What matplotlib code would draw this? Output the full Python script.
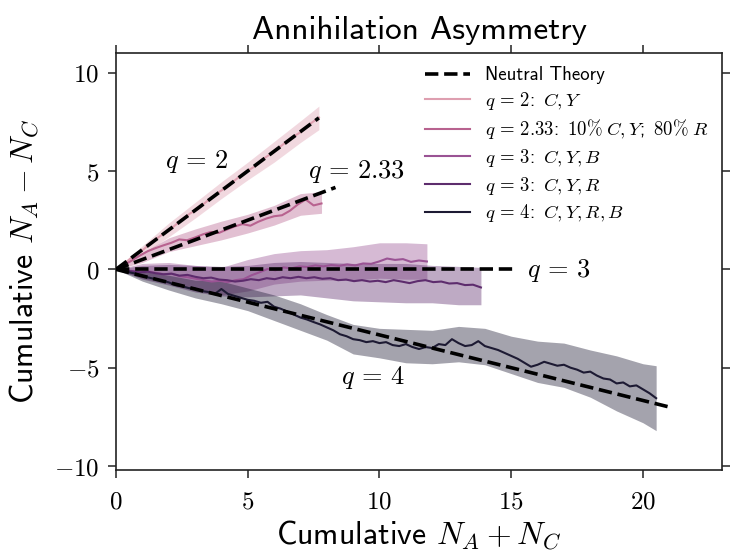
import numpy as np
import matplotlib
matplotlib.use('Agg')
import matplotlib.pyplot as plt
from matplotlib.ticker import FuncFormatter

plt.rcParams['font.family'] = 'cmss10'
plt.rcParams['mathtext.fontset'] = 'cm'
plt.rcParams['axes.unicode_minus'] = False

#%% data
labels = [r'$q\,=\,2$: $\,C,Y$',
          r'$q\,=\,2.33$: $\,10\%\;C,Y$; $\,80\%\;R$',
          r'$q\,=\,3$: $\,C,Y,B$',
          r'$q\,=\,3$: $\,C,Y,R$',
          r'$q\,=\,4$: $\,C,Y,R,B$']
colors = ['#de9fb0', '#b8628f', '#9a5394', '#5d2c6d', '#1d1a33']

# q = 2
x_q2 = np.linspace(0, 7.7, 23)
y_q2 = [0, 0.33, 0.72, 1.02, 1.43, 1.76, 2.08, 2.47, 2.83, 3.12, 3.52, 3.88,
        4.18, 4.57, 4.93, 5.22, 5.63, 5.93, 6.31, 6.68, 6.97, 7.38, 7.72]
bx_q2 = [0, 1, 2, 3, 4, 5, 6, 7, 7.7]
lo_q2 = [0, 0.75, 1.65, 2.6, 3.6, 4.55, 5.45, 6.45, 7.1]
hi_q2 = [0, 1.2, 2.35, 3.4, 4.45, 5.45, 6.5, 7.55, 8.3]

# q = 2.33
x_q233 = np.linspace(0, 7.8, 27)
y_q233 = [0, 0.22, 0.45, 0.7, 0.92, 1.08, 1.22, 1.35, 1.52, 1.48, 1.62, 1.78,
          1.9, 1.85, 2.02, 2.18, 2.3, 2.22, 2.42, 2.58, 2.7, 2.75, 2.98, 3.3,
          3.55, 3.25, 3.35]
bx_q233 = [0, 1, 2, 3, 4, 5, 6, 7, 7.8]
lo_q233 = [0, 0.35, 0.9, 1.2, 1.5, 1.85, 2.25, 2.75, 2.85]
hi_q233 = [0, 0.85, 1.6, 2.05, 2.45, 2.8, 3.25, 3.85, 3.95]

# q = 3, C,Y,B
x_q3b = np.linspace(0, 11.8, 40)
y_q3b = [0, -0.05, -0.08, -0.12, -0.10, -0.18, -0.25, -0.22, -0.35, -0.40,
         -0.48, -0.55, -0.62, -0.58, -0.65, -0.55, -0.50, -0.30, -0.15, 0.02,
         -0.05, 0.10, 0.05, 0.15, 0.12, 0.20, 0.15, 0.22, 0.18, 0.25,
         0.20, 0.30, 0.28, 0.40, 0.55, 0.48, 0.52, 0.38, 0.45, 0.40]
bx_q3b = [0, 1, 2, 3, 4, 5, 6, 7, 8, 9, 10, 11, 11.8]
lo_q3b = [0, -0.45, -0.75, -1.1, -1.3, -1.1, -0.75, -0.6, -0.55, -0.55, -0.45, -0.5, -0.5]
hi_q3b = [0, 0.3, 0.35, 0.2, 0.1, 0.5, 0.8, 0.95, 1.0, 1.15, 1.35, 1.35, 1.3]

# q = 3, C,Y,R
x_q3r = np.linspace(0, 13.85, 47)
y_q3r = [0, -0.06, -0.10, -0.15, -0.12, -0.20, -0.25, -0.22, -0.32, -0.28,
         -0.38, -0.45, -0.42, -0.52, -0.55, -0.62, -0.58, -0.50, -0.55, -0.45,
         -0.50, -0.40, -0.45, -0.38, -0.45, -0.40, -0.48, -0.45, -0.55, -0.52,
         -0.60, -0.55, -0.62, -0.58, -0.65, -0.55, -0.62, -0.70, -0.60, -0.55,
         -0.65, -0.62, -0.72, -0.70, -0.80, -0.78, -0.92]
bx_q3r = [0, 1, 2, 3, 4, 5, 6, 7, 8, 9, 10, 11, 12, 13, 13.85]
lo_q3r = [0, -0.5, -0.8, -1.15, -1.35, -1.4, -1.35, -1.3, -1.45, -1.6, -1.65, -1.7, -1.7, -1.8, -1.8]
hi_q3r = [0, 0.2, 0.25, 0.2, 0.15, 0.2, 0.35, 0.4, 0.35, 0.3, 0.3, 0.3, 0.2, 0.15, 0.1]

# q = 4
x_q4 = np.linspace(0, 20.5, 83)
y_q4 = [0.00, -0.08, -0.15, -0.22, -0.35, -0.42, -0.50, -0.58, -0.66, -0.80,
        -0.85, -0.95, -0.98, -1.10, -1.15, -1.25, -1.00, -1.25, -1.35, -1.45,
        -1.55, -1.60, -1.70, -1.65, -1.90, -2.00, -2.15, -2.30, -2.45, -2.55,
        -2.68, -2.80, -2.95, -3.10, -3.30, -3.40, -3.55, -3.60, -3.70, -3.65,
        -3.75, -3.70, -3.85, -3.90, -3.80, -3.95, -4.05, -3.95, -4.00, -3.80,
        -3.85, -3.55, -3.75, -3.90, -3.85, -3.65, -3.90, -4.00, -4.10, -4.25,
        -4.40, -4.55, -4.75, -4.95, -4.85, -4.70, -4.80, -4.90, -4.85, -5.00,
        -5.10, -5.25, -5.20, -5.40, -5.55, -5.60, -5.80, -5.75, -5.95, -5.90,
        -6.10, -6.30, -6.55]
bx_q4 = [0, 1, 2, 3, 4, 5, 6, 7, 8, 9, 10, 11, 12, 13, 14, 15, 16, 17, 18, 19, 20, 20.5]
lo_q4 = [0, -0.6, -1.05, -1.45, -1.75, -2.1, -2.6, -3.1, -3.6, -4.3, -4.5,
         -4.75, -4.8, -4.7, -4.85, -5.3, -5.75, -6.0, -6.5, -7.2, -7.8, -8.2]
hi_q4 = [0, -0.1, -0.3, -0.55, -0.6, -0.95, -1.3, -1.75, -2.3, -2.8, -3.0,
         -3.05, -3.1, -2.9, -3.0, -3.4, -3.65, -3.75, -4.1, -4.4, -4.8, -4.9]

# neutral theory: slope and end of each dashed line
neutral_slope = [1.0, 0.5, 0.0, -1 / 3]
neutral_end = [7.7, 8.33, 15.1, 21.0]

#%%
fig = plt.figure(figsize=(7.36, 5.52), dpi=100)
ax = fig.add_axes([0.1576, 0.1486, 0.8234, 0.7554])

series = [(x_q2, y_q2, bx_q2, lo_q2, hi_q2),
          (x_q233, y_q233, bx_q233, lo_q233, hi_q233),
          (x_q3b, y_q3b, bx_q3b, lo_q3b, hi_q3b),
          (x_q3r, y_q3r, bx_q3r, lo_q3r, hi_q3r),
          (x_q4, y_q4, bx_q4, lo_q4, hi_q4)]

handles = []
for (x, y, bx, lo, hi), c, lab in zip(series, colors, labels):
    ax.fill_between(bx, lo, hi, color=c, alpha=0.4, lw=0)
    h, = ax.plot(x, y, color=c, lw=1.5, label=lab)
    handles.append(h)

for s, e in zip(neutral_slope, neutral_end):
    hn, = ax.plot([0, e], [0, s * e], 'k--', lw=2.6, zorder=5,
                  label='Neutral Theory')

ax.text(1.85, 5.5, r'$q\,=\,2$', fontsize=19, va='center')
ax.text(7.3, 5.0, r'$q\,=\,2.33$', fontsize=19, va='center')
ax.text(15.6, -0.05, r'$q\,=\,3$', fontsize=19, va='center')
ax.text(8.55, -5.5, r'$q\,=\,4$', fontsize=19, va='center')

ax.set_xlim(0, 23)
ax.set_ylim(-10.2, 11)
ax.set_xticks([0, 5, 10, 15, 20])
ax.set_yticks([-10, -5, 0, 5, 10])
fmt = FuncFormatter(lambda v, p: '$%g$' % v)
ax.xaxis.set_major_formatter(fmt)
ax.yaxis.set_major_formatter(fmt)
ax.tick_params(direction='out', length=6, width=1.1, labelsize=18,
               top=True, right=True, color='#222222')
ax.tick_params(axis='x', pad=9)
ax.tick_params(axis='y', pad=6)
for sp in ax.spines.values():
    sp.set_linewidth(1.2)
    sp.set_color('#222222')

ax.set_xlabel(r'Cumulative $N_A + N_C$', fontsize=23, labelpad=3)
ax.set_ylabel(r'Cumulative $N_A - N_C$', fontsize=23, labelpad=9)
ax.set_title('Annihilation Asymmetry', fontsize=24, pad=10)

ax.legend([hn] + handles, ['Neutral Theory'] + labels, loc='upper right',
          frameon=False, fontsize=13.5, handlelength=2.4, labelspacing=0.3,
          borderaxespad=0.3)

fig.savefig('out.png', dpi=100)
